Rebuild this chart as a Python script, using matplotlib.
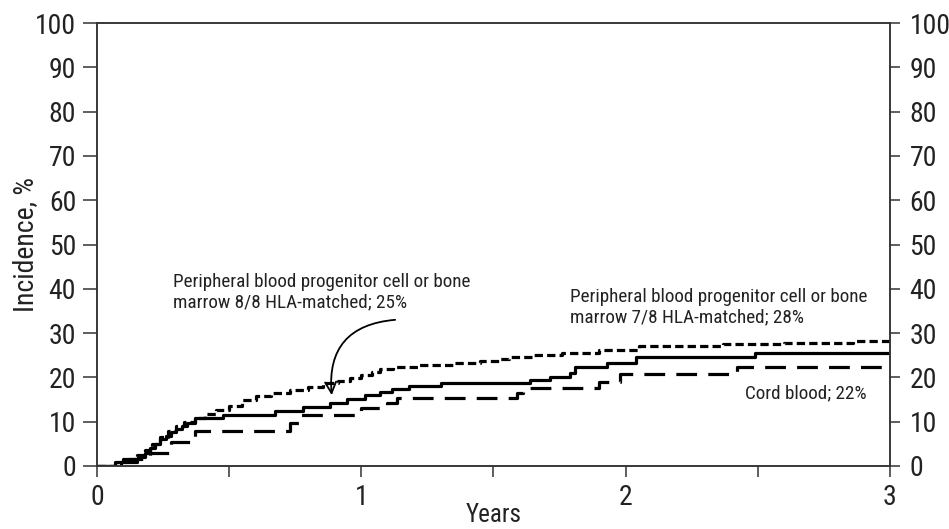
import matplotlib
matplotlib.use('Agg')
import matplotlib.pyplot as plt
from matplotlib import font_manager

# narrow sans, closest to the condensed Helvetica of the original
installed = set(f.name for f in font_manager.fontManager.ttflist)
prefs = ['Roboto Condensed', 'Archivo Narrow', 'PT Sans Narrow', 'Asap Condensed', 'DejaVu Sans']
FONT = [p for p in prefs if p in installed][0]
plt.rcParams['font.family'] = [FONT, 'DejaVu Sans']

# cumulative incidence, step curves (years, %)
pb88_t = [0, 0.068, 0.10, 0.155, 0.18, 0.20, 0.22, 0.24, 0.26, 0.28, 0.30, 0.32, 0.34, 0.37,
          0.477, 0.674, 0.78, 0.88, 0.944, 1.014, 1.07, 1.115, 1.18, 1.30, 1.638, 1.714,
          1.79, 1.81, 1.93, 2.04, 2.49, 3.0]
pb88_v = [0, 1.0, 1.5, 2.0, 3.0, 4.0, 5.0, 6.0, 6.8, 7.6, 8.3, 9.0, 9.7, 10.8,
          11.6, 12.4, 13.3, 14.3, 15.1, 16.0, 16.8, 17.4, 18.1, 18.7, 19.4, 20.2,
          21.1, 22.4, 23.2, 24.6, 25.5, 25.5]

pb78_t = [0, 0.09, 0.12, 0.15, 0.18, 0.21, 0.24, 0.27, 0.30, 0.33, 0.37, 0.41, 0.45, 0.50,
          0.55, 0.60, 0.66, 0.73, 0.80, 0.855, 0.91, 0.957, 1.0, 1.04, 1.07, 1.12, 1.22,
          1.35, 1.45, 1.52, 1.56, 1.65, 1.76, 1.9, 2.05, 2.2, 2.37, 2.6, 2.86, 3.0]
pb78_v = [0, 0.8, 1.5, 2.5, 3.6, 5.0, 6.5, 7.8, 9.0, 10.0, 10.9, 11.8, 12.6, 13.6,
          14.8, 15.8, 16.5, 17.2, 17.9, 18.7, 19.3, 19.9, 20.5, 21.2, 21.8, 22.3, 22.8,
          23.2, 23.6, 24.1, 24.7, 25.1, 25.6, 26.2, 27.0, 27.2, 27.5, 27.8, 28.3, 28.3]

cord_t = [0, 0.10, 0.15, 0.20, 0.28, 0.37, 0.73, 0.77, 1.0, 1.096, 1.134, 1.588, 1.61,
          1.90, 1.98, 2.42, 2.98]
cord_v = [0, 0.8, 1.5, 2.9, 5.5, 7.8, 9.8, 11.4, 13.0, 14.2, 15.3, 16.4, 17.6,
          19.0, 20.8, 22.3, 22.3]

fig = plt.figure(figsize=(9.49, 5.29), dpi=100)
ax = fig.add_axes([0.1022, 0.1191, 0.8356, 0.8374])

ax.step(pb78_t, pb78_v, where='post', color='black', lw=2.3, dashes=(2.6, 1.3))
ax.step(pb88_t, pb88_v, where='post', color='black', lw=2.3)
ax.step(cord_t, cord_v, where='post', color='black', lw=2.3, dashes=(6.5, 3.5))

ax.set_xlim(0, 3)
ax.set_ylim(0, 100)
ax.set_xticks([0, 1, 2, 3])
ax.set_xticks([0.5, 1.5, 2.5], minor=True)
ax.set_yticks(range(0, 101, 10))
ax.tick_params(axis='x', which='both', direction='out', length=8, width=1.1,
               color='#333333', labelsize=20, pad=5, labelcolor='#222222')
ax.tick_params(axis='y', direction='out', length=10, width=1.1, color='#333333',
               labelsize=20, pad=5, labelcolor='#222222')
for s in ax.spines.values():
    s.set_linewidth(1.1)
    s.set_color('#333333')

# right-hand axis repeats the scale
ax2 = ax.twinx()
ax2.set_ylim(0, 100)
ax2.set_yticks(range(0, 101, 10))
ax2.tick_params(axis='y', direction='out', length=7, width=1.1, color='#333333',
                labelsize=20, pad=7, labelcolor='#222222')
for s in ax2.spines.values():
    s.set_linewidth(1.1)
    s.set_color('#333333')

ax.set_xlabel('Years', fontsize=18, labelpad=-6, color='#222222')
ax.set_ylabel('Incidence, %', fontsize=20, labelpad=-3, color='#222222')

ax.text(0.288, 39.3, 'Peripheral blood progenitor cell or bone\nmarrow 8/8 HLA-matched; 25%',
        fontsize=13.8, va='center', ha='left', color='#222222', linespacing=1.15)
ax.text(1.79, 35.8, 'Peripheral blood progenitor cell or bone\nmarrow 7/8 HLA-matched; 28%',
        fontsize=13.8, va='center', ha='left', color='#222222', linespacing=1.15)
ax.text(2.452, 16.4, 'Cord blood; 22%', fontsize=13.8, va='center', ha='left', color='#222222')

ax.annotate('', xy=(0.888, 16.0), xytext=(1.128, 33.0),
            arrowprops=dict(arrowstyle='->,head_length=0.8,head_width=0.4',
                            connectionstyle='arc3,rad=0.5', lw=1.3, color='black',
                            shrinkA=0, shrinkB=0))

plt.savefig('out.png', dpi=100)
